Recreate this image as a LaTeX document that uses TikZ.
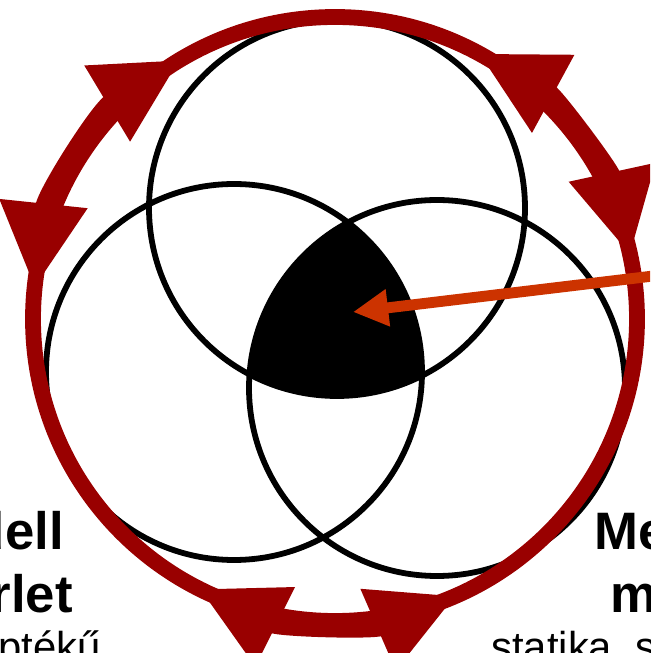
\documentclass[tikz,border=0pt]{standalone}
\usepackage{fontspec}
\setmainfont{Liberation Sans}
\usetikzlibrary{arrows.meta}
\definecolor{ringred}{HTML}{990000}
\definecolor{pointer}{HTML}{CC3300}

\begin{document}
\begin{tikzpicture}[x=0.02cm, y=0.02cm,
  ring/.style={draw=ringred, line width=9pt},
  ringarrow/.style={draw=ringred, fill=ringred, line width=9pt,
    {Triangle[length=48pt,width=48pt]}-{Triangle[length=48pt,width=48pt]}},
  set/.style={draw=black, line width=3.3pt},
  big/.style={font=\fontsize{30}{36}\selectfont\bfseries, inner sep=0pt},
  small/.style={font=\fontsize{23.8}{28}\selectfont, inner sep=0pt}]
\useasboundingbox (0,0) rectangle (650,653);
\clip (0,0) rectangle (650,653);
\coordinate (tc) at (337,445);
\coordinate (lc) at (234,281);
\coordinate (rc) at (437,265);
\coordinate (oc) at (335,334);
% common part of the three sets
\begin{scope}
\clip (tc) circle[radius=188];
\clip (lc) circle[radius=188];
\fill (rc) circle[radius=188];
\end{scope}
\draw[set] (tc) circle[radius=188];
\draw[set] (lc) circle[radius=188];
\draw[set] (rc) circle[radius=188];
% outer ring
\draw[ring] (oc) circle[radius=302];
\draw[ringarrow] (oc) ++(174:302) arc[start angle=174, end angle=121, radius=302];
\draw[ringarrow] (oc) ++(61.5:302) arc[start angle=61.5, end angle=12.3, radius=302];
\draw[ringarrow] (oc) ++(243.4:302) arc[start angle=243.4, end angle=293.5, radius=302];
% pointer
\coordinate (from) at (700,382.6);
\coordinate (core) at (353,341);
\draw[pointer, line width=6.2pt, -{Triangle[length=20pt,width=20pt]}] (from) -- (core);
% labels
\node[big, anchor=base east] (mod) at (64,103) {dell};
\node[big, anchor=base east] (exp) at (73,40) {rlet};
\node[small, anchor=base east] (scl) at (101,-9) {ptékű};
\node[big, anchor=base west] (mech) at (594,103) {Me};
\node[big, anchor=base west] (mm) at (610,40) {m};
\node[small, anchor=base west] (stat) at (491,-9) {statika, s};
\end{tikzpicture}
\end{document}
